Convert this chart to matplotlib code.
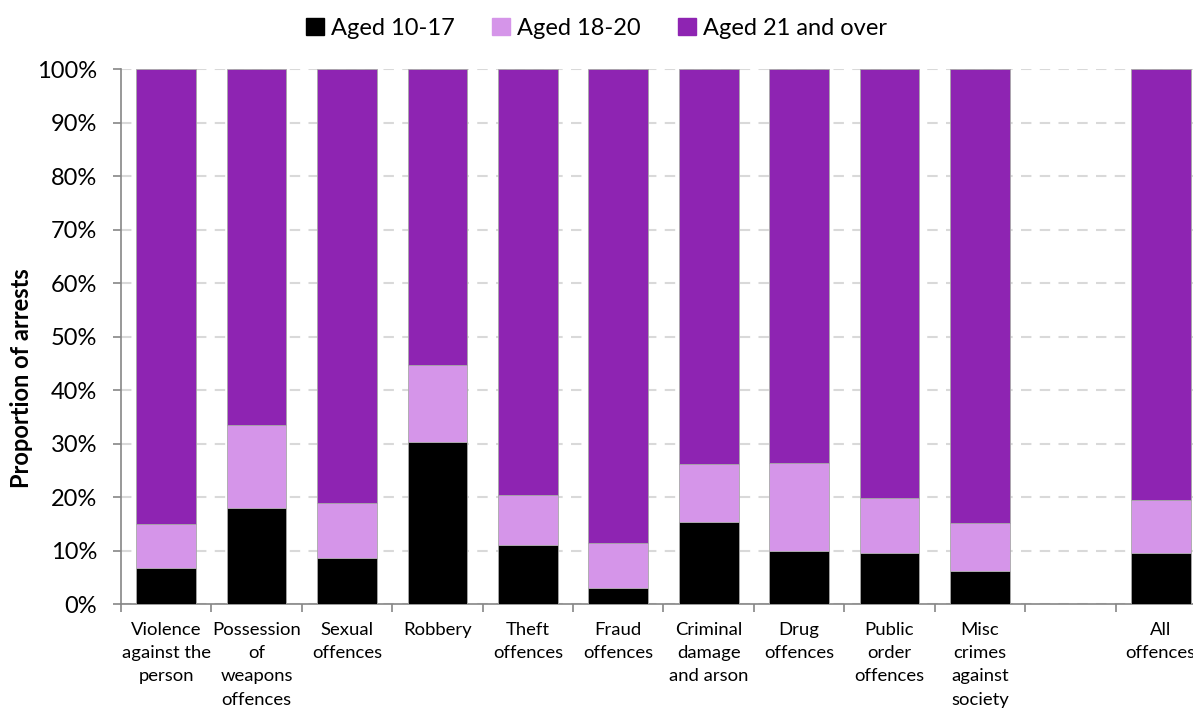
import matplotlib
matplotlib.use('Agg')
import matplotlib.pyplot as plt
from matplotlib.patches import Patch
import numpy as np

plt.rcParams['font.family'] = ['Lato', 'DejaVu Sans']

# share of arrests by age group (%)
categories = ['Violence\nagainst the\nperson', 'Possession\nof\nweapons\noffences',
              'Sexual\noffences', 'Robbery', 'Theft\noffences', 'Fraud\noffences',
              'Criminal\ndamage\nand arson', 'Drug\noffences', 'Public\norder\noffences',
              'Misc\ncrimes\nagainst\nsociety', 'All\noffences']
aged_10_17 = [6.8, 18.0, 8.7, 30.2, 11.1, 3.05, 15.3, 10.0, 9.5, 6.2, 9.5]
aged_18_20_cum = [15.0, 33.4, 18.8, 44.7, 20.3, 11.4, 26.2, 26.4, 19.9, 15.1, 19.4]

aged_10_17 = np.array(aged_10_17)
aged_18_20 = np.array(aged_18_20_cum) - aged_10_17
aged_21_over = 100 - np.array(aged_18_20_cum)

C_YOUNG = '#000000'
C_MID = '#D595E9'
C_OLD = '#8E24B2'
GREY = '#868686'

fig = plt.figure(figsize=(11.93, 7.09), dpi=100)
ax = fig.add_axes([0.1014, 0.148, 0.9095, 0.7546])

# empty slot before the "All offences" bar
x = np.arange(len(categories), dtype=float)
x[-1] += 1
w = 0.66
edge = dict(edgecolor='#a8a8a8', linewidth=0.6, zorder=3)
ax.bar(x, aged_10_17, w, color=C_YOUNG, **edge)
ax.bar(x, aged_18_20, w, bottom=aged_10_17, color=C_MID, **edge)
ax.bar(x, aged_21_over, w, bottom=aged_10_17 + aged_18_20, color=C_OLD, **edge)

ax.set_xlim(-0.5, 11.5)
ax.set_ylim(0, 100)
ax.set_yticks(np.arange(0, 101, 10))
ax.set_yticklabels([f'{v}%' for v in range(0, 101, 10)], fontsize=17)
ax.yaxis.grid(True, color='#d9d9d9', ls=(0, (5, 4)), lw=1.5, zorder=0)
ax.set_axisbelow(True)

# boundary tick marks, labels on minor ticks at bar centres
ax.set_xticks(np.arange(-0.5, 12, 1))
ax.set_xticklabels([])
ax.set_xticks(x, minor=True)
ax.set_xticklabels(categories, minor=True, fontsize=13.3, linespacing=1.55,
                   va='top')
ax.tick_params(axis='x', which='minor', length=0, pad=13)
ax.tick_params(axis='x', which='major', length=6, color=GREY, width=1.2)
ax.tick_params(axis='y', length=6, color=GREY, width=1.2, pad=11)

for s in ['top', 'right']:
    ax.spines[s].set_visible(False)
for s in ['left', 'bottom']:
    ax.spines[s].set_color(GREY)
    ax.spines[s].set_linewidth(1.2)

fig.text(0.018, 0.467, 'Proportion of arrests', rotation=90, fontsize=17,
         fontweight='bold', ha='center', va='center')

handles = [Patch(color=C_YOUNG, label='Aged 10-17'),
           Patch(color=C_MID, label='Aged 18-20'),
           Patch(color=C_OLD, label='Aged 21 and over')]
fig.legend(handles=handles, loc='upper center', bbox_to_anchor=(0.5, 1.005),
           ncol=3, frameon=False, fontsize=17, handlelength=0.75,
           handleheight=0.75, handletextpad=0.3, columnspacing=1.6)

fig.savefig('out.png', dpi=100)
